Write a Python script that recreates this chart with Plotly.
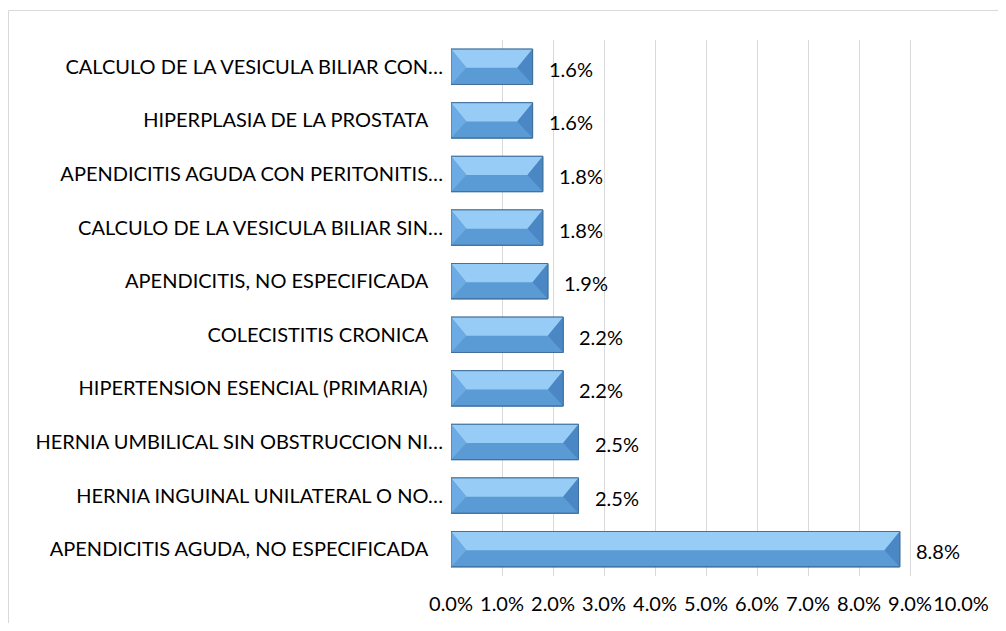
import plotly.graph_objects as go

# Data (bottom to top)
categories = [
    "APENDICITIS AGUDA, NO ESPECIFICADA\u00a0\u00a0\u00a0",
    "HERNIA INGUINAL UNILATERAL O NO…",
    "HERNIA UMBILICAL SIN OBSTRUCCION NI…",
    "HIPERTENSION ESENCIAL (PRIMARIA)\u00a0\u00a0\u00a0",
    "COLECISTITIS CRONICA\u00a0\u00a0\u00a0",
    "APENDICITIS, NO ESPECIFICADA\u00a0\u00a0\u00a0",
    "CALCULO DE LA VESICULA BILIAR SIN…",
    "APENDICITIS AGUDA CON PERITONITIS…",
    "HIPERPLASIA DE LA PROSTATA\u00a0\u00a0\u00a0",
    "CALCULO DE LA VESICULA BILIAR CON…",
]
values = [0.088, 0.025, 0.025, 0.022, 0.022, 0.019, 0.018, 0.018, 0.016, 0.016]
x_ticks = [0.0, 0.01, 0.02, 0.03, 0.04, 0.05, 0.06, 0.07, 0.08, 0.09, 0.10]

FONT = "Lato"
FS = 20
BAR_W = 0.66

# figure geometry (page body has 8px margin)
W, H = 990, 615
ML, MT = 443, 32
PW, PH = 510, 536
MR = W - ML - PW
MB = H - MT - PH

fig = go.Figure()
fig.add_trace(go.Bar(
    x=values, y=categories, orientation="h", width=BAR_W,
    marker=dict(color="#5B9BD5", line=dict(color="#41719C", width=1)),
    hoverinfo="x+y",
))

shapes = []
half = BAR_W / 2
inset = 0.003  # bevel depth in data units
for i, v in enumerate(values):
    top = i + half
    bot = i - half
    mid = i - 0.02
    shapes.append(dict(type="path", xref="x", yref="y",
        path=f"M 0,{top} L {v},{top} L {v-inset},{mid} L {inset},{mid} Z",
        fillcolor="#96CCF5", line=dict(width=0), layer="above"))
    shapes.append(dict(type="path", xref="x", yref="y",
        path=f"M 0,{top} L {inset},{mid} L 0,{bot} Z",
        fillcolor="#6CABE3", line=dict(width=0), layer="above"))
    shapes.append(dict(type="path", xref="x", yref="y",
        path=f"M {v},{top} L {v-inset},{mid} L {v},{bot} Z",
        fillcolor="#4A87C4", line=dict(width=0), layer="above"))
    shapes.append(dict(type="rect", xref="x", yref="y",
        x0=0, x1=v, y0=bot, y1=top,
        line=dict(color="#41719C", width=1), fillcolor="rgba(0,0,0,0)", layer="above"))

# outer chart frame
fy = (PH + MT - 2.5) / PH
fx = (0.5 - ML) / PW
shapes.append(dict(type="line", xref="paper", yref="paper",
    x0=fx, x1=(997 - ML) / PW, y0=fy, y1=fy,
    line=dict(color="#D9D9D9", width=1)))
shapes.append(dict(type="line", xref="paper", yref="paper",
    x0=fx, x1=fx, y0=fy, y1=-(MB + 20) / PH,
    line=dict(color="#D9D9D9", width=1)))

annotations = []
for i, v in enumerate(values):
    annotations.append(dict(x=v, y=i, xref="x", yref="y", text=f"{v*100:.1f}%",
        showarrow=False, xanchor="left", xshift=14, yshift=-2,
        font=dict(family=FONT, size=FS, color="#000000")))

fig.update_layout(
    width=W, height=H,
    margin=dict(l=ML, r=MR, t=MT, b=MB),
    paper_bgcolor="white", plot_bgcolor="white",
    showlegend=False,
    shapes=shapes, annotations=annotations,
    font=dict(family=FONT, size=FS, color="#000000"),
    xaxis=dict(range=[0, 0.10], tickvals=x_ticks, tickformat=".1%",
               showgrid=True, gridcolor="#D9D9D9", gridwidth=1,
               zeroline=False, showline=False, ticks="",
               tickangle=0, automargin=False,
               ticklabelstandoff=14,
               tickfont=dict(family=FONT, size=FS, color="#000000")),
    yaxis=dict(type="category", categoryorder="array", categoryarray=categories,
               range=[-0.5, len(categories) - 0.5],
               showgrid=False, zeroline=False, showline=False, ticks="",
               automargin=False,
               ticklabelstandoff=7,
               tickfont=dict(family=FONT, size=FS, color="#000000")),
)

fig.write_html("out.html")
